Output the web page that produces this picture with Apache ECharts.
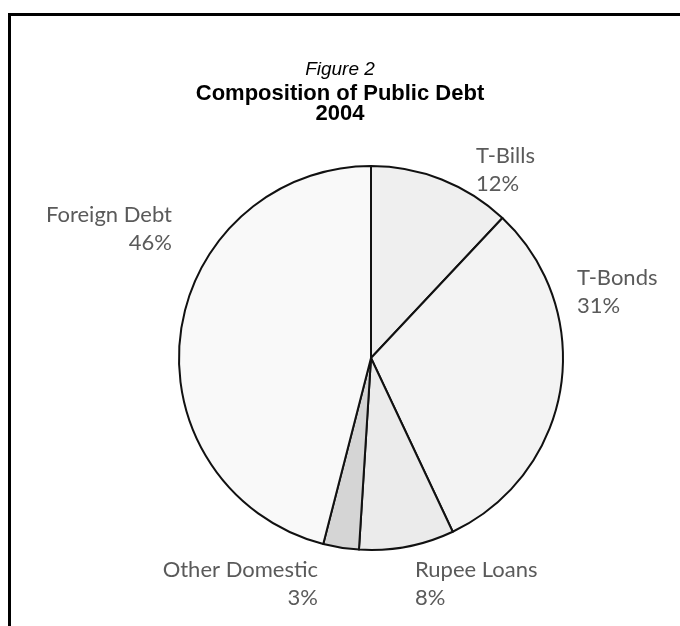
<!DOCTYPE html>
<html>
<head>
<meta charset="utf-8">
<script src="https://cdn.jsdelivr.net/npm/echarts@6/dist/echarts.min.js"></script>
<style>html,body{margin:0;padding:0;background:#fff;}#c{width:680px;height:626px;}</style>
</head>
<body>
<div id="c"></div>
<script>
const categories = ['T-Bills', 'T-Bonds', 'Rupee Loans', 'Other Domestic', 'Foreign Debt'];
const values = [12, 31, 8, 3, 46];
const sliceColors = ['#efefef', '#f3f3f3', '#ebebeb', '#d5d5d5', '#f9f9f9'];

const labelPlace = [
  {x: 476, y: 170, align: 'left'},
  {x: 577, y: 292, align: 'left'},
  {x: 415, y: 584, align: 'left'},
  {x: 318, y: 584, align: 'right'},
  {x: 172, y: 229, align: 'right'}
];

const chart = echarts.init(document.getElementById('c'), null, {renderer: 'canvas'});
chart.setOption({
  backgroundColor: '#ffffff',
  animation: false,
  title: [
    {text: 'Figure 2', left: 'center', top: 55, textStyle: {fontFamily: 'Liberation Sans, Arial', fontStyle: 'italic', fontWeight: 'normal', fontSize: 19, color: '#000'}},
    {text: 'Composition of Public Debt', left: 'center', top: 78, textStyle: {fontFamily: 'Liberation Sans, Arial', fontWeight: 'bold', fontSize: 22, color: '#000'}},
    {text: '2004', left: 'center', top: 98, textStyle: {fontFamily: 'Liberation Sans, Arial', fontWeight: 'bold', fontSize: 22, color: '#000'}}
  ],
  graphic: [
    {type: 'line', shape: {x1: 8, y1: 14.5, x2: 680, y2: 14.5}, style: {stroke: '#000', lineWidth: 3}},
    {type: 'line', shape: {x1: 9.5, y1: 13, x2: 9.5, y2: 626}, style: {stroke: '#000', lineWidth: 3}}
  ],
  series: [{
    type: 'pie',
    center: [371, 358],
    radius: 192,
    startAngle: 90,
    clockwise: true,
    data: categories.map((n, i) => ({name: n, value: values[i], itemStyle: {color: sliceColors[i]}})),
    itemStyle: {borderColor: '#111', borderWidth: 2},
    label: {
      show: true,
      formatter: '{b}\n{c}%',
      fontFamily: 'Lato, sans-serif',
      fontSize: 22,
      lineHeight: 28,
      color: '#5a5a5a',
      overflow: 'none',
      width: 200
    },
    labelLine: {show: false},
    labelLayout: function (p) {
      const lp = labelPlace[p.dataIndex];
      return {x: lp.x, y: lp.y, align: lp.align, verticalAlign: 'middle'};
    },
    emphasis: {disabled: true}
  }]
});
</script>
</body>
</html>
